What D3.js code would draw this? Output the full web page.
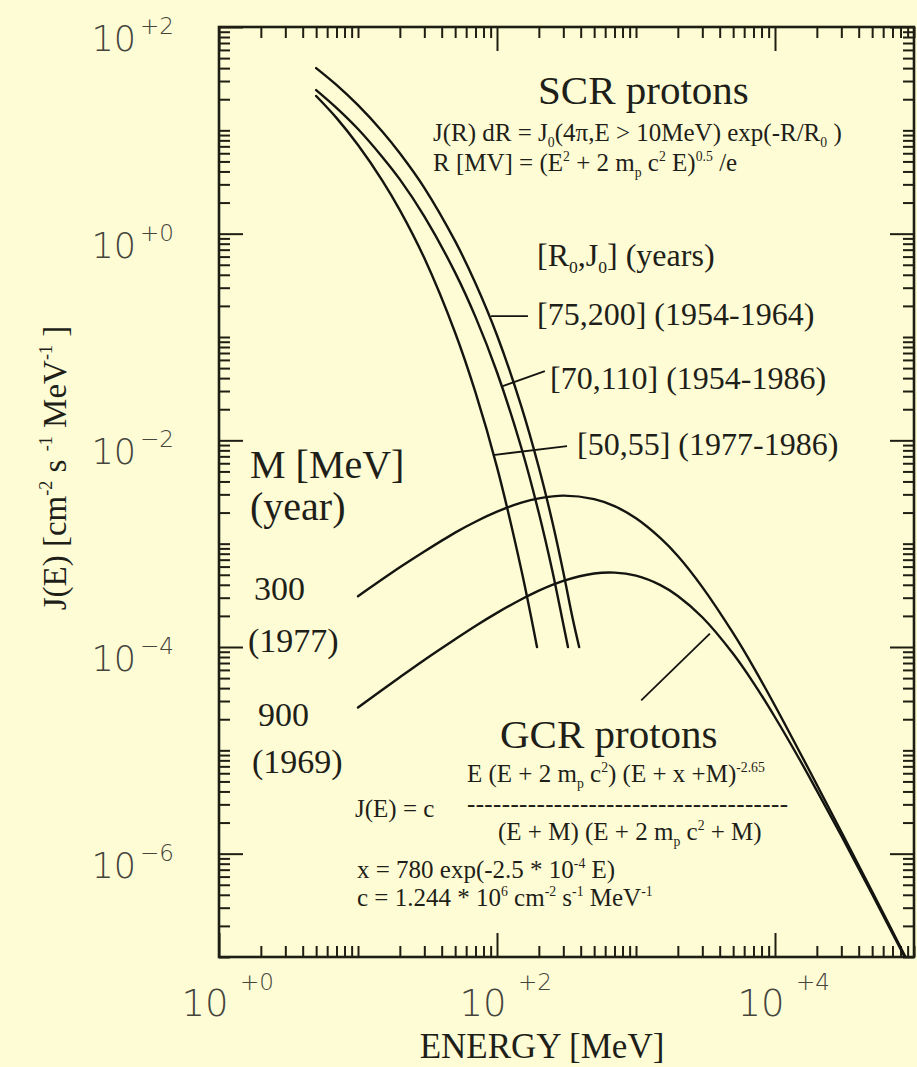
<!DOCTYPE html>
<html>
<head>
<meta charset="utf-8">
<script src="https://cdn.jsdelivr.net/npm/d3@7"></script>
<style>
  html, body { margin: 0; padding: 0; background: #fefcd4; }
  svg { display: block; }
  .serif { font-family: "Liberation Serif", "Times New Roman", serif; fill: #1f1f1a; }
  .tick-lbl { font-family: "DejaVu Sans", sans-serif; font-weight: 200; fill: #44443c; }
  .curve { fill: none; stroke: #141410; stroke-width: 2.4; stroke-linejoin: round; stroke-linecap: round; }
  .leader { stroke: #141410; stroke-width: 1.8; }
  .axis line { stroke: #1e1e14; stroke-width: 2; }
  .axis path { display: none; }
</style>
</head>
<body>
<svg id="chart" width="917" height="1067"></svg>
<script>
// ---- Solar cosmic ray (SCR) proton spectra, J in cm^-2 s^-1 MeV^-1 vs E in MeV ----
// [R0, J0] = [75, 200]  (1954-1964)
const scrEnergy75 = [5, 7, 10, 15, 20, 30, 50, 70, 100, 150, 200, 250, 300, 350, 390];
const scrFlux75   = [40, 27.5, 17.5, 9.7, 6.0, 2.78, 0.846, 0.331, 0.104, 0.0211, 0.00546, 0.00163, 5.3e-4, 1.9e-4, 1.0e-4];
// [R0, J0] = [70, 110]  (1954-1986)
const scrEnergy70 = [5, 7, 10, 15, 20, 30, 50, 70, 100, 150, 200, 250, 300, 324];
const scrFlux70   = [24.5, 16.5, 10.3, 5.5, 3.35, 1.47, 0.42, 0.1565, 0.0456, 0.00838, 0.00198, 5.47e-4, 1.66e-4, 1.0e-4];
// [R0, J0] = [50, 55]  (1977-1986)
const scrEnergy50 = [5, 7, 10, 15, 20, 30, 50, 70, 100, 150, 194];
const scrFlux50   = [21.5, 13.2, 7.2, 3.25, 1.69, 0.58, 0.110, 0.0291, 0.00551, 5.5e-4, 1.0e-4];

// ---- Galactic cosmic ray (GCR) proton spectra ----
const gcrEnergy = [10, 20, 30, 50, 70, 100, 150, 200, 300, 500, 700, 1000, 1500, 2000, 3000,
                   5000, 7000, 10000, 15000, 20000, 30000, 50000, 90000];
// M = 300 MeV (1977)
const gcrFlux300 = [3.1e-4, 5.9e-4, 8.4e-4, 1.28e-3, 1.63e-3, 2.04e-3, 2.49e-3, 2.74e-3, 2.92e-3,
                    2.70e-3, 2.31e-3, 1.76e-3, 1.13e-3, 7.6e-4, 3.8e-4, 1.36e-4, 6.4e-5, 2.7e-5,
                    9.7e-6, 4.65e-6, 1.63e-6, 4.3e-7, 9.1e-8];
// M = 900 MeV (1969)
const gcrFlux900 = [2.6e-5, 5.1e-5, 7.5e-5, 1.19e-4, 1.60e-4, 2.14e-4, 2.90e-4, 3.51e-4, 4.36e-4,
                    5.14e-4, 5.25e-4, 4.90e-4, 3.97e-4, 3.12e-4, 1.94e-4, 8.6e-5, 4.5e-5, 2.09e-5,
                    8.2e-6, 4.07e-6, 1.49e-6, 4.05e-7, 8.8e-8];

// ---- axis labelling ----
const xLabelExponents = [0, 2, 4];
const yLabelExponents = [2, 0, -2, -4, -6];

// ---- leader lines from the curve labels to the curves, [E, J] endpoints ----
const leaderSCR75 = [[90.6, 0.159], [167, 0.159]];
const leaderSCR70 = [[110, 0.0335], [221, 0.0468]];
const leaderSCR50 = [[93.6, 0.0072], [319, 0.0088]];
const leaderGCR   = [[1090, 3.05e-5], [3400, 1.35e-4]];

const svg = d3.select("#chart");
const W = 917, H = 1067;
svg.append("rect").attr("width", W).attr("height", H).attr("fill", "#fefcd4");

const x = d3.scaleLog().domain([1, 1e5]).range([219, 914]);
const y = d3.scaleLog().domain([1e-7, 1e2]).range([957, 27]);
const [x0, x1] = x.range();
const [y0, y1] = y.range();

// tick positions k*10^n
function logTicks(lo, hi) {
  const v = [];
  for (let e = lo; e < hi; e++) for (let k = 1; k < 10; k++) v.push(+(k * Math.pow(10, e)).toPrecision(6));
  v.push(Math.pow(10, hi));
  return v;
}
function isEvenDecade(v) {
  const l = Math.log10(v), r = Math.round(l);
  return Math.abs(l - r) < 1e-9 && r % 2 === 0;
}
const xAll = logTicks(0, 5), yAll = logTicks(-7, 2);
const xMinor = xAll.filter(v => !isEvenDecade(v)), xMajor = xAll.filter(isEvenDecade);
const yMinor = yAll.filter(v => !isEvenDecade(v)), yMajor = yAll.filter(isEvenDecade);

const minorLen = 11, majorLen = 24;
function addAxis(gen, tx, ty, vals, len) {
  svg.append("g").attr("class", "axis").attr("transform", `translate(${tx},${ty})`)
    .call(gen.tickValues(vals).tickSizeInner(-len).tickSizeOuter(0).tickFormat(""));
}
addAxis(d3.axisBottom(x), 0, y0, xMinor, minorLen);
addAxis(d3.axisBottom(x), 0, y0, xMajor, majorLen);
addAxis(d3.axisTop(x), 0, y1, xMinor, minorLen);
addAxis(d3.axisTop(x), 0, y1, xMajor, majorLen);
addAxis(d3.axisLeft(y), x0, 0, yMinor, minorLen);
addAxis(d3.axisLeft(y), x0, 0, yMajor, majorLen);
addAxis(d3.axisRight(y), x1, 0, yMinor, minorLen);
addAxis(d3.axisRight(y), x1, 0, yMajor, majorLen);

// frame
svg.append("rect")
  .attr("x", x0).attr("y", y1).attr("width", x1 - x0).attr("height", y0 - y1)
  .attr("fill", "none").attr("stroke", "#1e1e14").attr("stroke-width", 2.6);

// curves
svg.append("clipPath").attr("id", "plotclip").append("rect")
  .attr("x", x0).attr("y", y1).attr("width", x1 - x0).attr("height", y0 - y1);
const line = d3.line().x(d => x(d[0])).y(d => y(d[1])).curve(d3.curveCatmullRom.alpha(0.5));
const series = [
  d3.zip(scrEnergy75, scrFlux75),
  d3.zip(scrEnergy70, scrFlux70),
  d3.zip(scrEnergy50, scrFlux50),
  d3.zip(gcrEnergy, gcrFlux300),
  d3.zip(gcrEnergy, gcrFlux900)
];
const plot = svg.append("g").attr("clip-path", "url(#plotclip)");
plot.selectAll("path.curve").data(series).join("path")
  .attr("class", "curve").attr("d", line);

// leaders
[leaderSCR75, leaderSCR70, leaderSCR50, leaderGCR].forEach(l => {
  svg.append("line").attr("class", "leader")
    .attr("x1", x(l[0][0])).attr("y1", y(l[0][1]))
    .attr("x2", x(l[1][0])).attr("y2", y(l[1][1]));
});

// tick labels: 10 with signed exponent
xLabelExponents.forEach(e => {
  const px = x(Math.pow(10, e));
  svg.append("text").attr("class", "tick-lbl").attr("x", px - 14).attr("y", 1016)
    .attr("text-anchor", "middle").attr("font-size", 37).text("10");
  svg.append("text").attr("class", "tick-lbl").attr("x", px + 21).attr("y", 990)
    .attr("font-size", 23).text((e < 0 ? "\u2212" : "+") + Math.abs(e));
});
yLabelExponents.forEach(e => {
  const py = y(Math.pow(10, e));
  svg.append("text").attr("class", "tick-lbl").attr("x", 136).attr("y", py + 24)
    .attr("text-anchor", "end").attr("font-size", 35).text("10");
  svg.append("text").attr("class", "tick-lbl").attr("x", 140).attr("y", py + 7)
    .attr("font-size", 23).text((e < 0 ? "\u2212" : "+") + Math.abs(e));
});

// rich text helper: segments [text, kind] with kind '' | 'sup' | 'sub'
function rich(parent, px, py, size, segs, anchor) {
  const t = parent.append("text").attr("class", "serif").attr("x", px).attr("y", py)
    .attr("font-size", size).attr("text-anchor", anchor || "start");
  let shift = 0;
  segs.forEach(([s, kind]) => {
    const target = kind === "sup" ? -0.42 * size : kind === "sub" ? 0.22 * size : 0;
    const ts = t.append("tspan").attr("dy", target - shift).text(s);
    if (kind) ts.attr("font-size", size * 0.55);
    shift = target;
  });
  return t;
}

// axis titles
svg.append("text").attr("class", "serif").attr("x", 542).attr("y", 1058)
  .attr("text-anchor", "middle").attr("font-size", 35).text("ENERGY [MeV]");
const yTitle = svg.append("g").attr("transform", "translate(66,468) rotate(-90)");
rich(yTitle, 0, 0, 33, [["J(E) [cm", ""], ["-2", "sup"], [" s ", ""], ["-1", "sup"], [" MeV", ""], ["-1", "sup"], [" ]", ""]], "middle");

// SCR annotations
rich(svg, 538, 104, 41, [["SCR protons", ""]]);
rich(svg, 433, 141, 25, [["J(R) dR = J", ""], ["0", "sub"], ["(4\u03c0,E > 10MeV) exp(-R/R", ""], ["0", "sub"], [" )", ""]]);
rich(svg, 433, 171, 25, [["R [MV] = (E", ""], ["2", "sup"], [" + 2 m", ""], ["p", "sub"], [" c", ""], ["2", "sup"], [" E)", ""], ["0.5", "sup"], [" /e", ""]]);
rich(svg, 537, 266, 32, [["[R", ""], ["0", "sub"], [",J", ""], ["0", "sub"], ["] (years)", ""]]);
rich(svg, 537, 325, 32, [["[75,200] (1954-1964)", ""]]);
rich(svg, 550, 389, 32, [["[70,110] (1954-1986)", ""]]);
rich(svg, 577, 455, 32, [["[50,55] (1977-1986)", ""]]);

// GCR annotations
rich(svg, 250, 478, 40, [["M [MeV]", ""]]);
rich(svg, 250, 520, 40, [["(year)", ""]]);
rich(svg, 254, 600, 34, [["300", ""]]);
rich(svg, 248, 652, 34, [["(1977)", ""]]);
rich(svg, 258, 726, 34, [["900", ""]]);
rich(svg, 252, 773, 34, [["(1969)", ""]]);
rich(svg, 500, 748, 41, [["GCR protons", ""]]);
rich(svg, 355, 817, 25, [["J(E) = c", ""]]);
rich(svg, 467, 782, 25, [["E (E + 2 m", ""], ["p", "sub"], [" c", ""], ["2", "sup"], [") (E + x +M)", ""], ["-2.65", "sup"]]);
svg.append("text").attr("class", "serif").attr("x", 467).attr("y", 812).attr("font-size", 25)
  .attr("textLength", 321).attr("lengthAdjust", "spacing").text("-".repeat(37));
rich(svg, 498, 840, 25, [["(E + M) (E + 2 m", ""], ["p", "sub"], [" c", ""], ["2", "sup"], [" + M)", ""]]);
rich(svg, 357, 878, 25, [["x = 780 exp(-2.5 * 10", ""], ["-4", "sup"], [" E)", ""]]);
rich(svg, 357, 906, 25, [["c = 1.244 * 10", ""], ["6", "sup"], [" cm", ""], ["-2", "sup"], [" s", ""], ["-1", "sup"], [" MeV", ""], ["-1", "sup"]]);
</script>
</body>
</html>
